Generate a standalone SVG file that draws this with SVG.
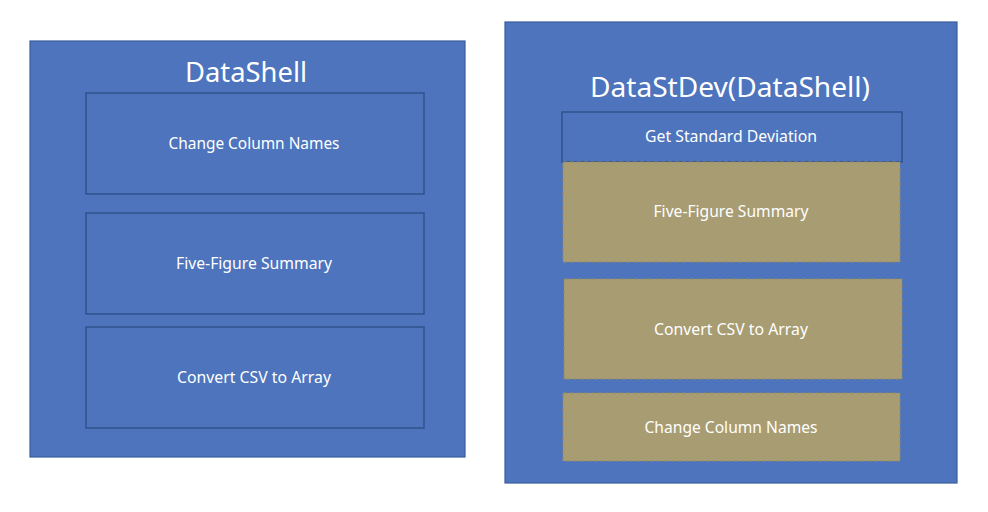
<svg xmlns="http://www.w3.org/2000/svg" width="988" height="512" viewBox="0 0 988 512">
<style>
.outer{fill:#4D74BC;stroke:#3A5E9E;stroke-width:1.2}
.inner{fill:#4D74BC;stroke:#30528D;stroke-width:1.5}
.tan{fill:#A89C72;stroke:#958A63;stroke-width:1;stroke-dasharray:4 3}
text{font-family:"Noto Sans","Liberation Sans",sans-serif;fill:#FFFFFF;text-anchor:middle}
.title{font-size:28px}
.lbl{font-size:16px}
</style>
<rect width="988" height="512" fill="#FFFFFF"/>
<g id="datashell">
<rect class="outer" x="30" y="41" width="435" height="416"/>
<text class="title" x="246" y="82" textLength="122" lengthAdjust="spacingAndGlyphs">DataShell</text>
</g>
<g id="ds-change-columns">
<rect class="inner" x="86" y="93" width="338" height="101"/>
<text class="lbl" x="254" y="149" textLength="171" lengthAdjust="spacingAndGlyphs">Change Column Names</text>
</g>
<g id="ds-five-figure">
<rect class="inner" x="86" y="213" width="338" height="101"/>
<text class="lbl" x="254" y="269" textLength="156" lengthAdjust="spacingAndGlyphs">Five-Figure Summary</text>
</g>
<g id="ds-convert-csv">
<rect class="inner" x="86" y="327" width="338" height="101"/>
<text class="lbl" x="254" y="383" textLength="154" lengthAdjust="spacingAndGlyphs">Convert CSV to Array</text>
</g>
<g id="datastdev">
<rect class="outer" x="505" y="22" width="452" height="461"/>
<text class="title" x="730" y="97" textLength="280" lengthAdjust="spacingAndGlyphs">DataStDev(DataShell)</text>
</g>
<g id="sd-get-stdev">
<rect class="inner" x="562" y="112" width="340" height="50"/>
<text class="lbl" x="731" y="142" textLength="172" lengthAdjust="spacingAndGlyphs">Get Standard Deviation</text>
</g>
<g id="sd-five-figure">
<rect class="tan" x="563" y="162" width="337" height="100"/>
<text class="lbl" x="731" y="217" textLength="155" lengthAdjust="spacingAndGlyphs">Five-Figure Summary</text>
</g>
<g id="sd-convert-csv">
<rect class="tan" x="564" y="279" width="338" height="100"/>
<text class="lbl" x="731" y="335" textLength="154" lengthAdjust="spacingAndGlyphs">Convert CSV to Array</text>
</g>
<g id="sd-change-columns">
<rect class="tan" x="563" y="393" width="337" height="68"/>
<text class="lbl" x="731" y="433" textLength="173" lengthAdjust="spacingAndGlyphs">Change Column Names</text>
</g>
<g id="connectors"></g>
</svg>
